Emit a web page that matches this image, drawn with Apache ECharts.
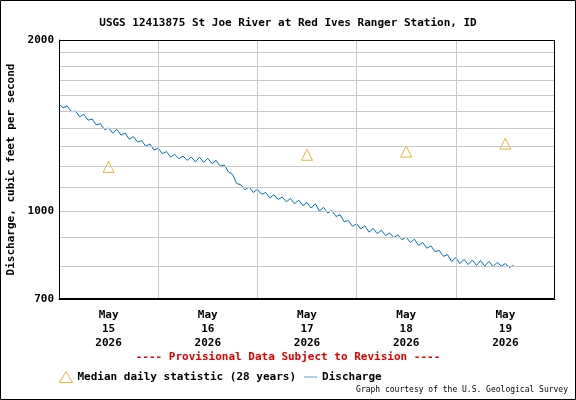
<!DOCTYPE html><html><head><meta charset="utf-8"><script src="https://cdn.jsdelivr.net/npm/echarts@6/dist/echarts.min.js"></script>
<style>html,body{margin:0;padding:0;background:#fff}#c{width:576px;height:400px}</style></head><body><div id="c"></div><script>
const discharge=[1541,1520,1530,1495,1500,1465,1480,1445,1452,1418,1425,1390,1400,1372,1392,1360,1372,1338,1352,1322,1330,1300,1312,1280,1290,1262,1272,1245,1258,1236,1250,1228,1245,1220,1244,1218,1238,1212,1228,1200,1205,1172,1160,1118,1112,1090,1102,1078,1092,1070,1078,1055,1068,1048,1058,1038,1052,1030,1045,1022,1035,1012,1030,1000,1015,992,1002,978,985,958,962,940,950,930,942,918,932,912,925,905,915,898,908,890,900,880,892,870,880,860,868,848,852,832,838,815,828,808,822,805,820,802,818,800,815,798,812,800,808,795,802];
const medianHours=[12,60,84,108];
const medianValues=[1196,1256,1272,1314];
const dayLabels=['May\n15\n2026','May\n16\n2026','May\n17\n2026','May\n18\n2026','May\n19\n2026'];
const dayBoundaries=[24,48,72,96];
const gridValues=[800,900,1100,1200,1300,1400,1500,1600,1700,1800,1900];
const labelValues=[700,1000,2000];
const F='DejaVu Sans Mono';
const ch=echarts.init(document.getElementById('c'));
const ml=[];
gridValues.forEach(v=>ml.push({yAxis:v,label:{show:false},lineStyle:{color:'#c8c8c8',type:'solid',width:1}}));
dayBoundaries.forEach(v=>ml.push({xAxis:v,label:{show:false},lineStyle:{color:'#c8c8c8',type:'solid',width:1}}));
labelValues.forEach(v=>ml.push({yAxis:v,label:{show:true,position:'start',formatter:String(v),fontFamily:F,fontWeight:'bold',fontSize:11,color:'#000',distance:5},lineStyle:{color:v===1000?'#c8c8c8':'#000',type:'solid',width:1}}));
ch.setOption({
animation:false,
title:{text:'USGS 12413875 St Joe River at Red Ives Ranger Station, ID',left:'center',top:13,textStyle:{fontFamily:F,fontWeight:'bold',fontSize:11,color:'#000'}},
grid:{left:59,top:40,right:21,bottom:101,outerBoundsMode:'none',containLabel:false},
xAxis:{type:'value',min:0,max:120,interval:12,axisLine:{lineStyle:{color:'#000'}},splitLine:{show:false},
 axisTick:{show:false},
 axisLabel:{showMinLabel:false,showMaxLabel:false,fontFamily:F,fontWeight:'bold',fontSize:11,color:'#000',lineHeight:14,margin:9,formatter:v=>(v%24===12)?dayLabels[(v-12)/24]:''}},
yAxis:{type:'log',min:700,max:2000,axisLabel:{show:false},axisTick:{show:false},splitLine:{show:false},axisLine:{show:true,lineStyle:{color:'#000'}},
 name:'Discharge, cubic feet per second',nameLocation:'middle',nameGap:42,nameTextStyle:{fontFamily:F,fontWeight:'bold',fontSize:11,color:'#000'}},
legend:{left:54,top:366,itemGap:8,itemWidth:13,itemHeight:11,textStyle:{fontFamily:F,fontWeight:'bold',fontSize:11,color:'#000'},
 data:[{name:'Median daily statistic (28 years)',icon:'triangle',itemStyle:{color:'transparent',borderColor:'#e8a000',borderWidth:1}},{name:'Discharge',icon:'path://M0,5L20,5L20,6L0,6Z',itemStyle:{color:'#0070c0'}}]},
series:[
{name:'Discharge',type:'line',data:discharge.map((v,i)=>[i,v]),showSymbol:false,lineStyle:{color:'#0070c0',width:1},itemStyle:{color:'#0070c0'},markLine:{symbol:'none',silent:true,animation:false,data:ml}},
{name:'Median daily statistic (28 years)',type:'scatter',data:medianHours.map((h,i)=>[h,medianValues[i]]),symbol:'triangle',symbolSize:11,itemStyle:{color:'transparent',borderColor:'#e8a000',borderWidth:1}}
],
graphic:[
{type:'rect',shape:{x:0.5,y:0.5,width:575,height:399},style:{fill:'none',stroke:'#000',lineWidth:1}},
{type:'rect',shape:{x:59.5,y:40.5,width:495,height:258},style:{fill:'none',stroke:'#000',lineWidth:1},z:100},
{type:'text',left:'center',top:352,style:{text:'---- Provisional Data Subject to Revision ----',fontFamily:F,fontWeight:'bold',fontSize:11,fill:'#e00000'}},
{type:'text',right:8,top:386,style:{text:'Graph courtesy of the U.S. Geological Survey',fontFamily:F,fontSize:8,fill:'#000'}}
]});
</script></body></html>
